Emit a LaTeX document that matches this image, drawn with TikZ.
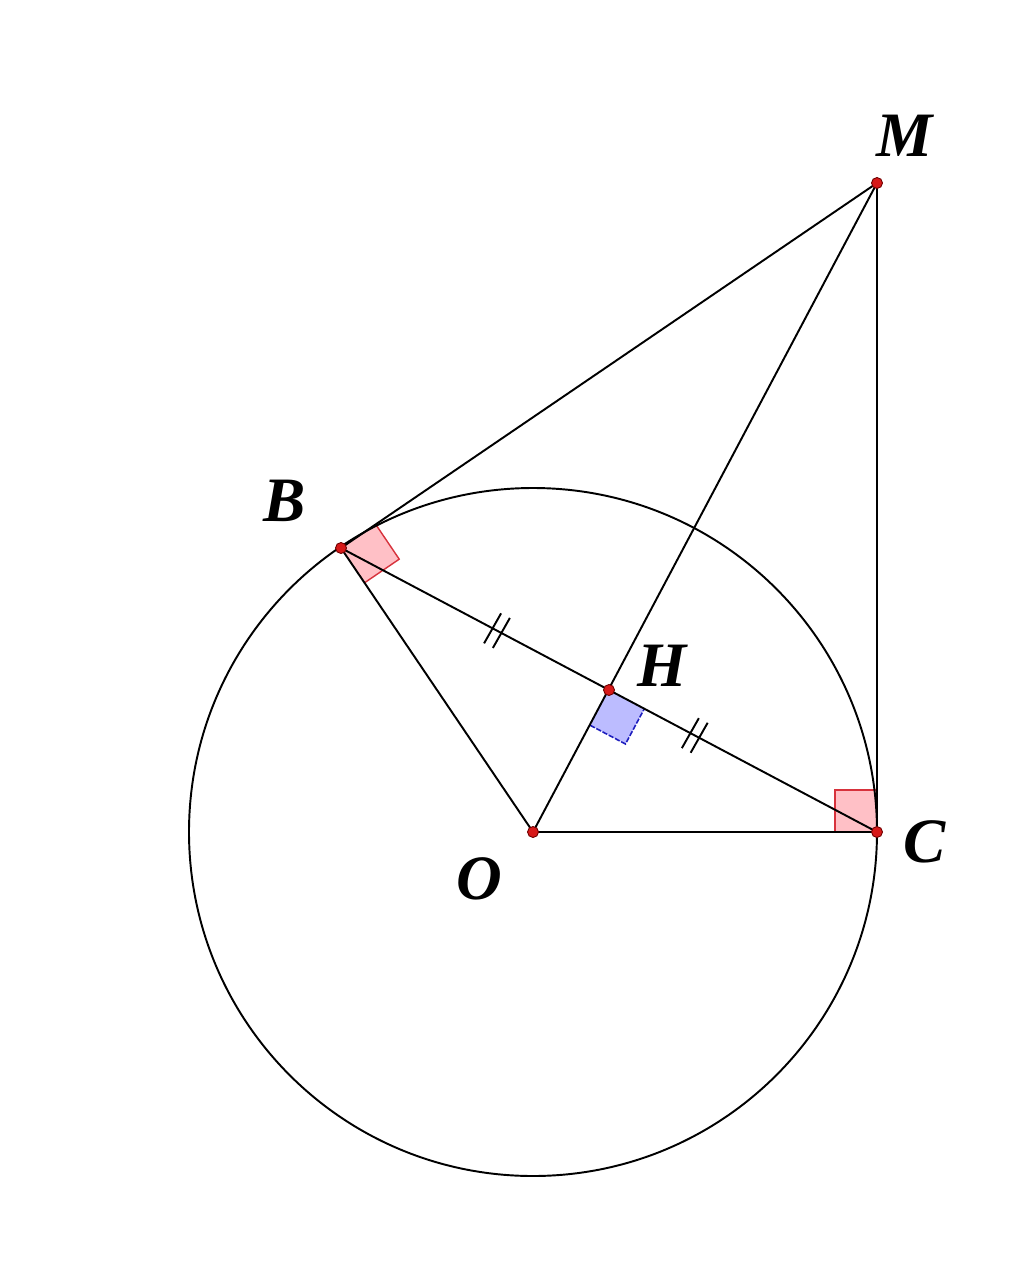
\documentclass[tikz,border=0pt]{standalone}
\usepackage{fontspec}
\setmainfont{Liberation Serif}
\usetikzlibrary{calc}
\definecolor{pinkfill}{RGB}{255,192,198}
\definecolor{pinkedge}{RGB}{215,50,60}
\definecolor{bluefill}{RGB}{188,188,255}
\definecolor{blueedge}{RGB}{30,30,190}
\definecolor{ptred}{RGB}{215,25,25}
\definecolor{ptedge}{RGB}{110,0,0}
\begin{document}
\begin{tikzpicture}[x=0.02cm,y=-0.02cm,
  seg/.style={line width=1.1pt, black},
  lbl/.style={font=\fontsize{36}{40}\selectfont\bfseries\itshape, inner sep=0pt},
  pt/.style={circle, fill=ptred, draw=ptedge, line width=0.5pt, inner sep=0pt, minimum size=0.22cm},
  pinkmark/.style={fill=pinkfill, draw=none},
  pinkline/.style={draw=pinkedge, line width=0.8pt},
  bluemark/.style={fill=bluefill, draw=none},
  blueline/.style={draw=blueedge, line width=0.9pt, dash pattern=on 3pt off 1pt},
  tick/.style={line width=1.1pt, black}
]
\useasboundingbox (0,0) rectangle (1024,1275);
\coordinate (O) at (533,832);
\coordinate (C) at (877,832);
\coordinate (M) at (877,183);
\coordinate (B) at (341,548);
\coordinate (H) at ($(B)!0.5!(C)$);

% right angle at B
\coordinate (b1) at ($(B)!0.84cm!(M)$);
\coordinate (b2) at ($(B)!0.84cm!(O)$);
\coordinate (b3) at ($(b1)+(b2)-(B)$);
\fill[pinkmark] (B) -- (b1) -- (b3) -- (b2) -- cycle;
\draw[pinkline] (b1) -- (b3) -- (b2);
% right angle at C
\coordinate (c1) at ($(C)!0.84cm!(O)$);
\coordinate (c2) at ($(C)!0.84cm!(M)$);
\coordinate (c3) at ($(c1)+(c2)-(C)$);
\fill[pinkmark] (C) -- (c1) -- (c3) -- (c2) -- cycle;
\draw[pinkline] (c1) -- (c3) -- (c2);
% right angle at H
\coordinate (h1) at ($(H)!0.8cm!(O)$);
\coordinate (h2) at ($(H)!0.8cm!(C)$);
\coordinate (h3) at ($(h1)+(h2)-(H)$);
\fill[bluemark] (H) -- (h1) -- (h3) -- (h2) -- cycle;
\draw[blueline] (h1) -- (h3) -- (h2);

% circle and segments
\draw[seg] (O) circle[radius=344];
\draw[seg] (M) -- (B);
\draw[seg] (M) -- (O);
\draw[seg] (M) -- (C);
\draw[seg] (B) -- (O);
\draw[seg] (B) -- (C);
\draw[seg] (O) -- (C);

% equal-length ticks
\coordinate (t1) at ($(B)!0.582!(H)$);
\coordinate (t2) at ($(H)!0.32!(C)$);
\foreach \t in {t1,t2}{
  \draw[tick] ($(\t)+(-4.4,-2.3)+(-8.5,15)$) -- ++(17,-30);
  \draw[tick] ($(\t)+(4.4,2.3)+(-8.5,15)$) -- ++(17,-30);
}

% points
\node[pt] (pO) at (O) {};
\node[pt] (pC) at (C) {};
\node[pt] (pM) at (M) {};
\node[pt] (pB) at (B) {};
\node[pt] (pH) at (H) {};

% labels
\node[lbl] (lM) at (905,136) {M};
\node[lbl] (lB) at (285,501) {B};
\node[lbl] (lH) at (662,666) {H};
\node[lbl] (lC) at (925,842) {C};
\node[lbl] (lO) at (479,879) {O};
\end{tikzpicture}
\end{document}
